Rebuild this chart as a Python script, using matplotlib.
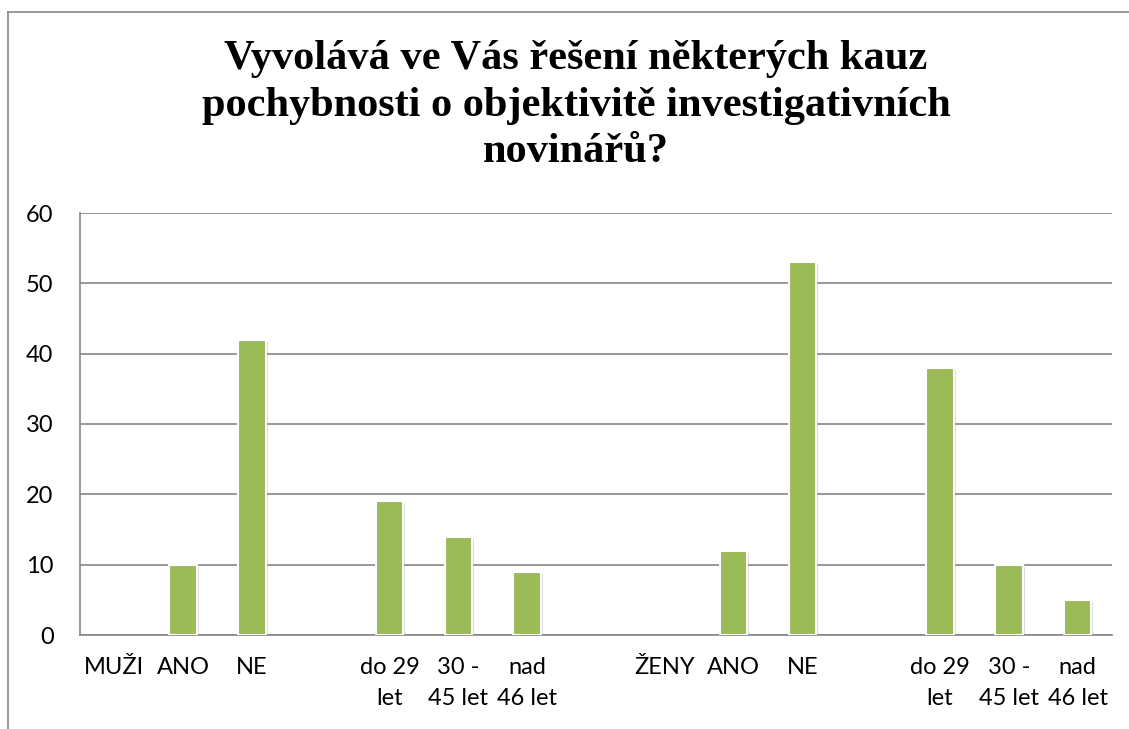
import matplotlib.pyplot as plt
import matplotlib.patheffects as pe
from matplotlib.lines import Line2D

# categories incl. empty gap slots, as in the original sheet
labels = ["MUŽI", "ANO", "NE", "", "do 29\nlet", "30 -\n45 let", "nad\n46 let", "",
          "ŽENY", "ANO", "NE", "", "do 29\nlet", "30 -\n45 let", "nad\n46 let"]
values = [None, 10, 42, None, 19, 14, 9, None,
          None, 12, 53, None, 38, 10, 5]
yticks = [0, 10, 20, 30, 40, 50, 60]

title = "Vyvolává ve Vás řešení některých kauz\npochybnosti o objektivitě investigativních\nnovinářů?"

W, H = 1129, 729
fig = plt.figure(figsize=(W / 100, H / 100), dpi=100)
ax = fig.add_axes([80 / W, 1 - 635 / H, (1112 - 80) / W, (635 - 213) / H])

xs = [i for i, v in enumerate(values) if v is not None]
hs = [v for v in values if v is not None]
bars = ax.bar(xs, hs, width=0.4, color="#9BBB59", edgecolor="white", linewidth=1.5, zorder=3)
for b in bars:
    b.set_path_effects([pe.SimplePatchShadow(offset=(1.5, -1.5), shadow_rgbFace="#999999", alpha=0.35),
                        pe.Normal()])

ax.set_xlim(-0.5, len(labels) - 0.5)
ax.set_ylim(0, 60)
ax.set_yticks(yticks)
ax.set_xticks(range(len(labels)))
ax.set_xticklabels(labels, fontsize=17, family="Lato", linespacing=1.6, va="top")
for t in ax.get_yticklabels():
    t.set_fontsize(17)
    t.set_family("Lato")
ax.tick_params(axis="x", length=0, pad=16)
ax.tick_params(axis="y", length=0, pad=19)
ax.grid(axis="y", color="#868686", linewidth=1.2, zorder=0)
for s in ["top", "right"]:
    ax.spines[s].set_visible(False)
ax.spines["left"].set_color("#868686")
ax.spines["bottom"].set_color("#868686")
ax.spines["left"].set_linewidth(1.2)
ax.spines["bottom"].set_linewidth(1.2)

fig.text(576 / W, 1 - 40 / H, title, ha="center", va="top", fontsize=30.5,
         family="Liberation Serif", weight="bold", linespacing=1.3)

# outer chart frame (partly cropped)
fig.add_artist(Line2D([8 / W, 8 / W], [0, 1 - 12 / H], transform=fig.transFigure, color="#888888", lw=1.2))
fig.add_artist(Line2D([8 / W, 1], [1 - 12 / H, 1 - 12 / H], transform=fig.transFigure, color="#888888", lw=1.2))

fig.savefig("out.png", dpi=100)
